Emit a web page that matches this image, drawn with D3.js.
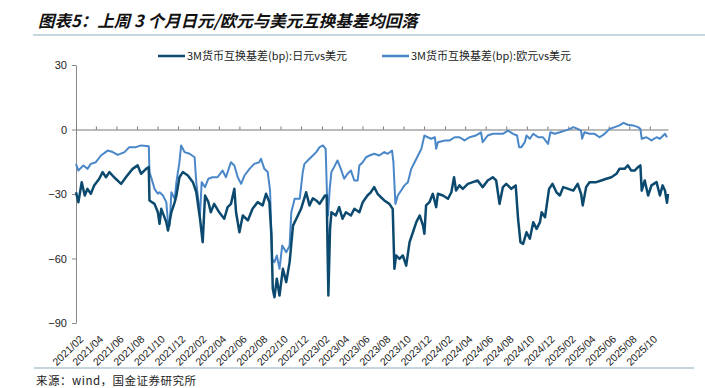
<!doctype html>
<html lang="zh">
  <head>
    <meta charset="UTF-8" />
    <title>图表5</title>
    <style>
      body { margin: 0; background: #fff; }
      svg text { font-family: Arial, "Liberation Sans", sans-serif; }
      .cjk { font-family: "Noto Sans CJK SC", sans-serif; }
    </style>
  </head>
  <body>
    <div id="target"></div>
    <script src="https://d3js.org/d3.v7.min.js"></script>
    <script>
      /* global d3 */

      const title = "图表5：上周 3 个月日元/欧元与美元互换基差均回落";
      const source = "来源：wind，国金证券研究所";
      const seriesNames = ["3M货币互换基差(bp):日元vs美元", "3M货币互换基差(bp):欧元vs美元"];
      const yTicks = [30, 0, -30, -60, -90];

      // 日元vs美元
      const jpyDates = [
        "2021-02-01","2021-02-08","2021-02-18","2021-02-27","2021-03-07","2021-03-17","2021-03-27",
        "2021-04-11","2021-04-21","2021-05-01","2021-05-11","2021-05-25","2021-06-15","2021-06-29",
        "2021-07-19","2021-08-03","2021-08-13","2021-08-28","2021-09-05","2021-09-07","2021-09-22",
        "2021-10-02","2021-10-07","2021-10-12","2021-10-27","2021-11-01","2021-11-11","2021-11-21",
        "2021-11-26","2021-12-05","2021-12-15","2021-12-30","2022-01-14","2022-01-24","2022-02-04",
        "2022-02-12","2022-02-19","2022-03-01","2022-03-08","2022-03-18","2022-04-02","2022-04-17",
        "2022-04-27","2022-05-07","2022-05-17","2022-05-22","2022-06-01","2022-06-11","2022-06-26",
        "2022-07-10","2022-07-25","2022-08-09","2022-08-19","2022-08-29","2022-09-04","2022-09-08",
        "2022-09-13","2022-09-20","2022-09-28","2022-10-08","2022-10-18","2022-10-28","2022-11-07",
        "2022-11-17","2022-12-01","2022-12-16","2022-12-26","2023-01-05","2023-01-15","2023-01-25",
        "2023-02-10","2023-02-15","2023-02-20","2023-02-25","2023-03-01","2023-03-14","2023-03-24",
        "2023-04-03","2023-04-13","2023-04-28","2023-05-08","2023-05-23","2023-06-02","2023-06-16",
        "2023-06-26","2023-07-06","2023-07-16","2023-07-26","2023-08-05","2023-08-20","2023-08-30",
        "2023-09-04","2023-09-09","2023-09-19","2023-09-29","2023-10-09","2023-10-19","2023-10-29",
        "2023-11-08","2023-11-18","2023-11-28","2023-12-02","2023-12-07","2023-12-17","2023-12-27",
        "2024-01-06","2024-01-11","2024-01-26","2024-02-10","2024-02-20","2024-02-28","2024-03-05",
        "2024-03-15","2024-03-25","2024-04-09","2024-04-24","2024-05-08","2024-05-23","2024-06-07",
        "2024-06-22","2024-07-02","2024-07-12","2024-07-22","2024-08-01","2024-08-16","2024-08-29",
        "2024-09-05","2024-09-12","2024-09-20","2024-09-30","2024-10-10","2024-10-20","2024-10-30",
        "2024-11-09","2024-11-14","2024-11-24","2024-11-29","2024-12-06","2024-12-16","2024-12-28",
        "2025-01-07","2025-01-17","2025-02-01","2025-02-16","2025-03-01","2025-03-11","2025-03-16",
        "2025-03-26","2025-04-05","2025-04-25","2025-05-10","2025-05-25","2025-06-09","2025-06-24",
        "2025-07-03","2025-07-18","2025-07-28","2025-08-07","2025-08-17","2025-08-27","2025-09-03",
        "2025-09-07","2025-09-16","2025-09-26","2025-10-06","2025-10-21","2025-10-31","2025-11-08",
        "2025-11-15","2025-11-21","2025-11-24"
      ];
      const jpyValues = [
        -29.2,-33.8,-24.5,-30.7,-27.6,-29.9,-26,
        -22.9,-19.8,-22.2,-19.8,-22.2,-25.3,-22.2,
        -18.3,-16.7,-20.6,-18.3,-17.5,-33,-34.6,
        -38.5,-43.9,-36.9,-43.1,-47,-38.5,-33.8,
        -30.7,-22.2,-19.8,-21.4,-24.5,-29.1,-41.5,
        -52.4,-30.7,-33.8,-38.5,-34.6,-38.5,-41.5,
        -36.1,-34.6,-27.6,-38.5,-47.8,-40,-42.3,
        -36.9,-33.8,-35.3,-29.9,-33.8,-49.3,-74.1,
        -78,-69.4,-77.2,-64.8,-71,-61.7,-44.7,
        -41.5,-36.9,-29.2,-35.3,-32,-33,-34.6,
        -30.7,-30.7,-77.2,-46.2,-38.5,-40,-36.1,
        -41.5,-38.5,-40,-36.9,-38.5,-33.8,-30.7,
        -29.2,-26.8,-29.9,-31.5,-33,-34.6,-36.9,
        -64.8,-58.6,-60.2,-58.6,-63.3,-52.4,-47.8,
        -43.1,-40,-44.7,-48.5,-35.3,-33.8,-29.9,
        -36.1,-29.9,-30.7,-32.2,-29.2,-22.2,-28.4,
        -26,-27.6,-25.3,-24.5,-23.7,-26.8,-23.7,
        -22.2,-23.7,-34.6,-26.8,-25.3,-27.6,-26,
        -41.5,-52.4,-53.2,-47.8,-50.8,-43.1,-46.2,
        -43.1,-38.5,-40.8,-35.3,-27.6,-25.3,-29.2,
        -30.7,-26.8,-27.6,-28.4,-25.3,-29.9,-35.3,
        -26.8,-24.5,-24.5,-23.7,-22.9,-22.2,-20.6,
        -18.3,-18.3,-16.7,-19.1,-19.1,-17.5,-16.7,
        -28.4,-23.7,-30.7,-26,-24.5,-30.7,-26,
        -28.4,-34.1,-29.9
      ];

      // 欧元vs美元
      const eurDates = [
        "2021-02-01","2021-02-08","2021-02-23","2021-03-07","2021-03-17","2021-04-01","2021-04-16",
        "2021-05-06","2021-05-21","2021-06-05","2021-06-25","2021-07-09","2021-07-29","2021-08-13",
        "2021-09-05","2021-09-07","2021-09-12","2021-09-22","2021-10-02","2021-10-07","2021-10-17",
        "2021-10-27","2021-11-01","2021-11-06","2021-11-11","2021-11-21","2021-11-26","2021-12-05",
        "2021-12-10","2021-12-20","2022-01-04","2022-01-19","2022-01-24","2022-02-04","2022-02-09",
        "2022-02-19","2022-03-01","2022-03-13","2022-03-28","2022-04-12","2022-04-22","2022-05-07",
        "2022-05-17","2022-05-27","2022-06-06","2022-06-16","2022-07-01","2022-07-15","2022-07-30",
        "2022-08-04","2022-08-14","2022-08-24","2022-08-31","2022-09-06","2022-09-13","2022-09-20",
        "2022-09-28","2022-10-06","2022-10-18","2022-10-28","2022-11-02","2022-11-12","2022-11-27",
        "2022-12-06","2022-12-11","2022-12-26","2023-01-05","2023-01-15","2023-01-25","2023-02-04",
        "2023-02-12","2023-02-16","2023-02-19","2023-02-24","2023-03-01","2023-03-09","2023-03-19",
        "2023-03-29","2023-04-08","2023-04-18","2023-04-28","2023-05-08","2023-05-18","2023-05-23",
        "2023-06-02","2023-06-12","2023-06-22","2023-07-06","2023-07-21","2023-08-05","2023-08-15",
        "2023-08-28","2023-09-01","2023-09-07","2023-09-14","2023-09-24","2023-10-04","2023-10-14",
        "2023-10-24","2023-11-03","2023-11-13","2023-11-23","2023-12-02","2023-12-12","2023-12-22",
        "2024-01-02","2024-01-06","2024-01-11","2024-02-01","2024-02-15","2024-03-01","2024-03-15",
        "2024-03-30","2024-04-14","2024-05-03","2024-05-18","2024-05-23","2024-06-07","2024-06-22",
        "2024-07-07","2024-07-22","2024-08-06","2024-08-21","2024-09-02","2024-09-08","2024-09-15",
        "2024-09-25","2024-09-30","2024-10-10","2024-10-20","2024-11-04","2024-11-18","2024-12-03",
        "2024-12-10","2024-12-23","2025-01-07","2025-01-22","2025-02-07","2025-02-16","2025-03-01",
        "2025-03-11","2025-03-14","2025-03-21","2025-04-05","2025-04-20","2025-05-05","2025-05-20",
        "2025-06-04","2025-06-19","2025-07-03","2025-07-15","2025-07-28","2025-08-12","2025-08-27",
        "2025-09-03","2025-09-07","2025-09-21","2025-10-06","2025-10-21","2025-10-31","2025-11-10",
        "2025-11-15","2025-11-21"
      ];
      const eurValues = [
        -16,-19.1,-16.7,-18.3,-16,-15.2,-12.1,
        -9.8,-10.5,-11.8,-10.5,-8.2,-8.2,-7.4,
        -7.8,-19.8,-22.2,-27.6,-29.9,-29.2,-30.7,
        -33.8,-43.1,-44.7,-29.2,-32.2,-24.5,-15.2,
        -7.4,-10.5,-11.3,-12.9,-24.5,-40,-24.5,
        -26.8,-22.9,-22.2,-22.2,-19.1,-22.2,-15.2,
        -16.7,-22.2,-25.3,-21.4,-18.3,-16,-15.2,
        -13.6,-18.3,-19.8,-28.4,-60.2,-61.7,-58.6,
        -64.8,-54,-57.1,-54,-38.5,-32.2,-32.2,
        -19.8,-16,-13.6,-12.1,-10.5,-8.2,-7.4,
        -9,-30.7,-40,-27.6,-19.8,-17.5,-14.4,
        -18.3,-22.9,-20.6,-19.1,-23.7,-23.7,-16.7,
        -15.2,-12.9,-12.1,-11.3,-12.1,-10.5,-11.3,
        -9.8,-15.2,-34.6,-30.7,-28.4,-26,-24.5,
        -18.3,-15.2,-12.1,-9,-2.8,-3.6,-4.3,
        -3.6,-9,-5.9,-5.1,-5.1,-3.6,-3.6,
        -5.1,-3.6,-2.8,-1.3,-5.9,-2.8,-2,
        -2,-2,-0.5,-2,-2.8,-8.2,-8.2,
        -5.9,-2.8,-4.3,-2,-3.6,-3.6,-6.7,
        -1.3,-2,-1.3,-0.5,0.3,1.1,0.3,
        -0.5,-4.3,-1.3,-2,-2,-3.6,-2,
        0.3,1.1,1.9,3.1,2.2,1.9,1.1,
        0.3,-4.3,-3.6,-5.1,-3.6,-4.3,-2.8,
        -2,-3.6
      ];

      const width = 705, height = 388;
      const margin = { left: 76, right: 37, top: 65, bottom: 65 };
      const colors = ["#0b4a6e", "#4a87c8"];

      const parse = d3.timeParse("%Y-%m-%d");
      const jpy = jpyDates.map((d, i) => ({ date: parse(d), value: jpyValues[i] }));
      const eur = eurDates.map((d, i) => ({ date: parse(d), value: eurValues[i] }));

      const svg = d3
        .select("#target")
        .append("svg")
        .attr("width", width)
        .attr("height", height);

      // title + rules
      svg.append("text")
        .attr("class", "cjk")
        .attr("x", 38)
        .attr("y", 27)
        .style("font-size", "16.5px")
        .style("font-weight", "bold")
        .style("font-style", "italic")
        .attr("fill", "#111")
        .text(title);
      svg.append("line")
        .attr("x1", 33).attr("x2", width).attr("y1", 35).attr("y2", 35)
        .attr("stroke", "#c6d5de").attr("stroke-width", 2);
      svg.append("line")
        .attr("x1", 34).attr("x2", 694).attr("y1", 368).attr("y2", 368)
        .attr("stroke", "#c6d5de").attr("stroke-width", 2);
      svg.append("text")
        .attr("class", "cjk")
        .attr("x", 36)
        .attr("y", 385)
        .style("font-size", "11.5px")
        .style("letter-spacing", "0.5px")
        .attr("fill", "#222")
        .text(source);

      const x = d3
        .scaleTime()
        .domain([new Date(2021, 1, 1), new Date(2025, 10, 24)])
        .range([margin.left, width - margin.right]);
      const y = d3
        .scaleLinear()
        .domain([-90, 30])
        .range([height - margin.bottom, margin.top]);

      const xTickDates = d3.timeMonth.range(new Date(2021, 1, 1), new Date(2025, 10, 2), 2);

      // y axis
      const yAxis = svg.append("g")
        .attr("transform", `translate(${margin.left},0)`)
        .call(d3.axisLeft(y).tickValues(yTicks).tickSize(4).tickSizeOuter(0).tickPadding(5));
      yAxis.select(".domain").attr("stroke", "#888");
      yAxis.selectAll(".tick line").attr("stroke", "#888");
      yAxis.selectAll("text").style("font-size", "11px").attr("fill", "#222");

      // zero line with ticks
      const zAxis = svg.append("g")
        .attr("transform", `translate(0,${y(0)})`)
        .call(d3.axisTop(x).tickValues(xTickDates).tickSize(3).tickSizeOuter(0).tickFormat(""));
      zAxis.select(".domain").attr("stroke", "#777");
      zAxis.selectAll(".tick line").attr("stroke", "#777");

      // date labels at the bottom
      const xAxis = svg.append("g")
        .attr("transform", `translate(0,${height - margin.bottom})`)
        .call(d3.axisBottom(x).tickValues(xTickDates).tickSize(0).tickFormat(d3.timeFormat("%Y/%m")));
      xAxis.select(".domain").remove();
      xAxis.selectAll("text")
        .style("font-size", "10.5px")
        .attr("fill", "#222")
        .attr("text-anchor", "end")
        .attr("dy", "0.35em")
        .attr("transform", "translate(3,12) rotate(-44)");

      const line = d3.line().x((d) => x(d.date)).y((d) => y(d.value));

      svg.append("path")
        .datum(eur)
        .attr("fill", "none")
        .attr("stroke", colors[1])
        .attr("stroke-width", 2)
        .attr("stroke-linejoin", "round")
        .attr("d", line);
      svg.append("path")
        .datum(jpy)
        .attr("fill", "none")
        .attr("stroke", colors[0])
        .attr("stroke-width", 2.5)
        .attr("stroke-linejoin", "round")
        .attr("d", line);

      // legend
      const legendX = [158, 382];
      seriesNames.forEach((name, i) => {
        const g = svg.append("g").attr("transform", `translate(${legendX[i]},56)`);
        g.append("line")
          .attr("x1", 0).attr("x2", 27)
          .attr("stroke", colors[i]).attr("stroke-width", 2.5);
        g.append("text")
          .attr("class", "cjk")
          .attr("x", 29)
          .attr("dy", "0.35em")
          .style("font-size", "11px")
          .attr("fill", "#222")
          .text(name);
      });
    </script>
  </body>
</html>
